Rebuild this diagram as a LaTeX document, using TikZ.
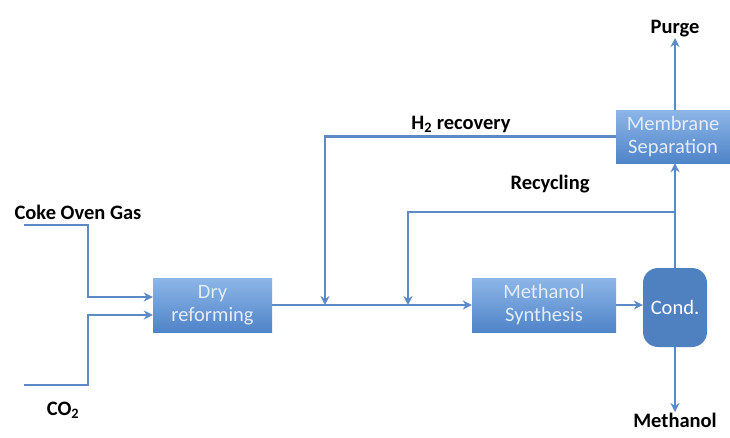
\documentclass[tikz,border=0pt]{standalone}
\usepackage{fontspec}
\setmainfont{Carlito}
\usetikzlibrary{arrows.meta}
\definecolor{lineblue}{HTML}{5B8AC6}
\definecolor{boxtop}{HTML}{8DB6E8}
\definecolor{boxbot}{HTML}{4F84C8}
\definecolor{boxtext}{HTML}{E3EDF9}
\definecolor{condblue}{HTML}{4F80BF}
\tikzset{
  flow/.style={draw=lineblue, line width=2.2pt, -{Stealth[length=9pt,width=9pt]}},
  unit/.style={top color=boxtop, bottom color=boxbot, draw=none, text=boxtext,
     align=center, font=\fontsize{20.5}{23}\selectfont, inner sep=0pt},
  vessel/.style={fill=condblue, draw=none, rounded corners=15pt, text=white,
     font=\fontsize{20.5}{23}\selectfont, minimum width=64pt, minimum height=79pt, inner sep=0pt},
  lbl/.style={font=\bfseries\fontsize{20.5}{23}\selectfont, text=black, inner sep=1pt}
}
\begin{document}
\begin{tikzpicture}[x=1pt,y=-1pt]
\useasboundingbox (0,0) rectangle (730,437);
% units
\node[unit, minimum width=119pt, minimum height=54pt] (dry) at (212.5,305) {Dry\\reforming};
\node[unit, minimum width=144pt, minimum height=54pt] (ms) at (544,305) {Methanol\\Synthesis};
\node[unit, minimum width=114pt, minimum height=53pt] (mem) at (673,136.5) {Membrane\\Separation};
\node[vessel] (cond) at (675,307.5) {Cond.};
% labels
\node[lbl] (cog) at (78,212) {Coke Oven Gas};
\node[lbl] (co2) at (63,410) {CO$_\mathbf{2}$};
\node[lbl] (h2) at (461,124) {H$_\mathbf{2}$ recovery};
\node[lbl] (rec) at (550,184) {Recycling};
\node[lbl, anchor=south] (purge) at (675,38) {Purge};
\node[lbl, anchor=north] (meoh) at (675,412) {Methanol};
% coordinates
\coordinate (cogin) at (24,225);
\coordinate (co2in) at (24,385);
\coordinate (c1) at (88,297);
\coordinate (c2) at (88,315);
\coordinate (j1) at (325,305);
\coordinate (j2) at (408,305);
\coordinate (rj) at (675,212);
% feeds
\draw[flow] (cogin) -| (c1) -- (c1 -| dry.west);
\draw[flow] (co2in) -| (c2) -- (c2 -| dry.west);
% main line
\draw[flow] (dry.east) -- (ms.west);
\draw[flow] (ms.east) -- (ms.east -| cond.west);
% recoveries
\draw[flow] (mem.west) -| (j1);
\draw[flow] (rj) -| (j2);
\draw[flow] (cond.north) -- (mem.south -| cond.north);
\draw[flow] (mem.north -| cond.north) -- (purge.south);
\draw[flow] (cond.south) -- (meoh.north);
\end{tikzpicture}
\end{document}
